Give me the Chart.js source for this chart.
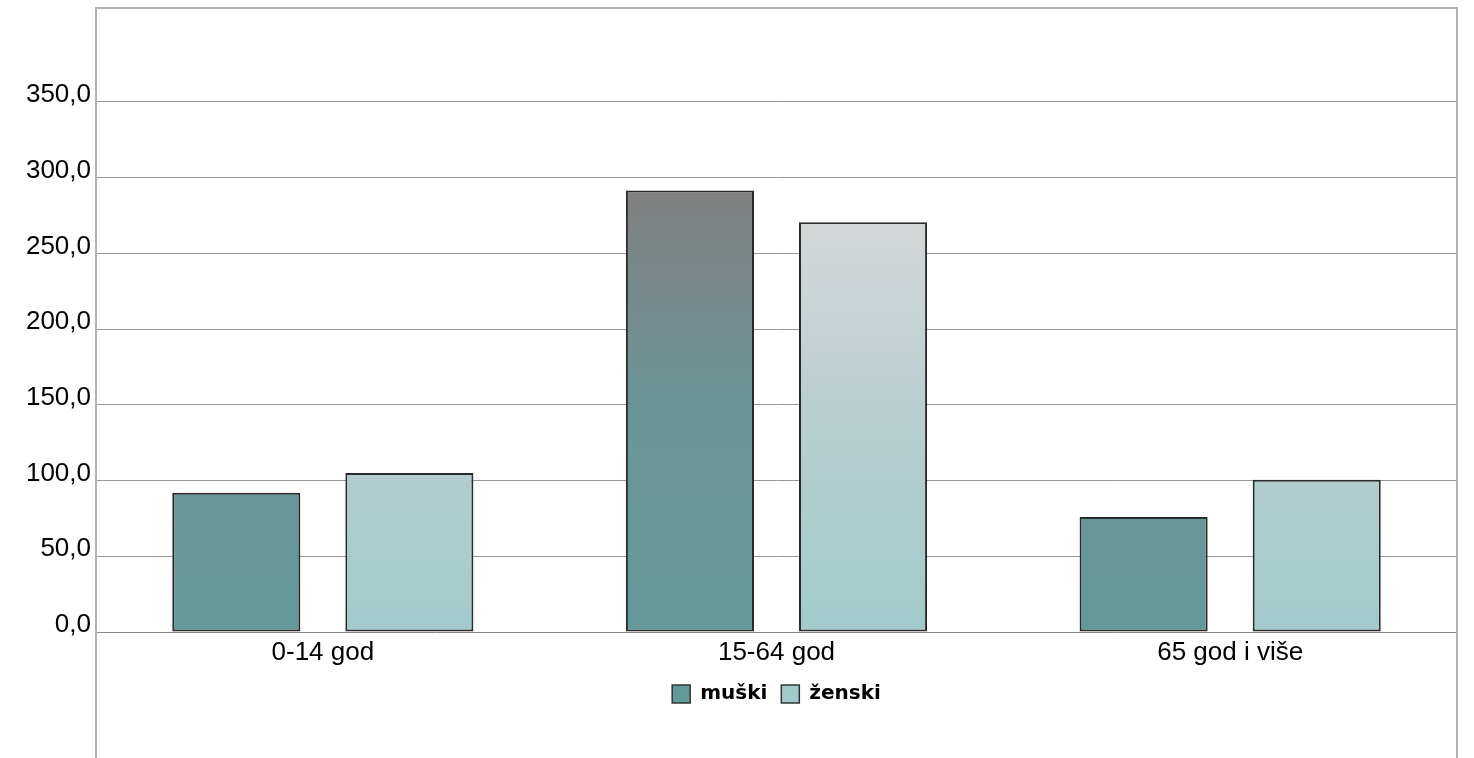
<!DOCTYPE html>
<html>
<head>
<meta charset="utf-8">
<script src="https://cdn.jsdelivr.net/npm/chart.js@4"></script>
<style>
  html, body { margin: 0; padding: 0; background: #fff; }
  #wrap { width: 1474px; height: 758px; }
</style>
</head>
<body>
<div id="wrap"><canvas id="populationChart" width="1474" height="758"></canvas></div>
<script>
// Age groups and values
const categories = ["0-14 god", "15-64 god", "65 god i više"];
const seriesNames = ["muški", "ženski"];
const maleValues = [92.0, 291.5, 76.0];
const femaleValues = [105.0, 270.5, 100.5];
const yTickMax = 350;

// vertical gradient across the plot area (gray at the top, teal lower down)
const makeGradient = (chart, stops) => {
  const area = chart.chartArea;
  if (!area) return stops[stops.length - 1][1];
  const g = chart.ctx.createLinearGradient(0, area.top, 0, area.bottom);
  stops.forEach(([pos, color]) => g.addColorStop(pos, color));
  return g;
};

const maleStops = [[0, "#808080"], [0.3, "#808080"], [0.47, "#758a8c"], [0.64, "#6a9494"], [1, "#649999"]];
const femaleStops = [[0, "#d8d9d8"], [0.3, "#d8d9d8"], [0.47, "#c9d3d6"], [0.64, "#b8cfcf"], [1, "#a2caca"]];

// Draw the light frame round the plot that runs down past the axis
const framePlugin = {
  id: "frame",
  beforeDatasetsDraw(chart) {
    const { ctx, chartArea: a, height } = chart;
    ctx.save();
    ctx.strokeStyle = "#b3b3b3";
    ctx.lineWidth = 2;
    ctx.beginPath();
    ctx.moveTo(a.left, height);
    ctx.lineTo(a.left, a.top);
    ctx.lineTo(a.right, a.top);
    ctx.lineTo(a.right, height);
    ctx.stroke();
    ctx.restore();
  },
};

const ctx = document.getElementById("populationChart").getContext("2d");

new Chart(ctx, {
  type: "bar",
  data: {
    labels: categories,
    datasets: [
      {
        label: seriesNames[0],
        data: maleValues,
        backgroundColor: (c) => makeGradient(c.chart, maleStops),
        borderColor: "#2a2a2a",
        borderWidth: 2,
        borderSkipped: false,
      },
      {
        label: seriesNames[1],
        data: femaleValues,
        backgroundColor: (c) => makeGradient(c.chart, femaleStops),
        borderColor: "#2a2a2a",
        borderWidth: 2,
        borderSkipped: false,
      },
    ],
  },
  options: {
    responsive: false,
    animation: false,
    categoryPercentage: 0.763,
    barPercentage: 0.74,
    layout: { padding: { top: 8, right: 17, bottom: 44, left: 0 } },
    plugins: {
      title: { display: false },
      tooltip: { enabled: false },
      legend: {
        position: "bottom",
        fullSize: false,
        labels: {
          color: "#000",
          font: { family: "DejaVu Sans", size: 20, weight: "bold" },
          boxWidth: 18,
          boxHeight: 18,
          padding: 14,
          generateLabels: (chart) => chart.data.datasets.map((ds, i) => ({
            text: ds.label,
            fillStyle: makeGradient(chart, i === 0 ? maleStops : femaleStops),
            strokeStyle: "#333333",
            lineWidth: 1.5,
            datasetIndex: i,
          })),
        },
      },
    },
    scales: {
      x: {
        grid: { display: false, drawTicks: false },
        border: { display: true, color: "#888888", width: 1 },
        ticks: {
          color: "#000",
          padding: 5,
          font: { family: "Liberation Sans", size: 26 },
        },
        afterFit: (scale) => { scale.height = 38; },
      },
      y: {
        min: 0,
        max: 412,
        grid: {
          drawTicks: false,
          color: (c) => (c.tick && c.tick.value > 0 && c.tick.value <= yTickMax ? "#999999" : "transparent"),
        },
        border: { display: false },
        ticks: {
          stepSize: 50,
          color: "#000",
          padding: 5,
          labelOffset: -7,
          font: { family: "Liberation Sans", size: 26 },
          callback: (v) => (v <= yTickMax && v % 50 === 0 ? v.toFixed(1).replace(".", ",") : ""),
        },
        afterFit: (scale) => {
          scale.width = 96;
          scale.paddingTop = 0;
          scale.paddingBottom = 0;
        },
      },
    },
  },
  plugins: [framePlugin],
});
</script>
</body>
</html>
